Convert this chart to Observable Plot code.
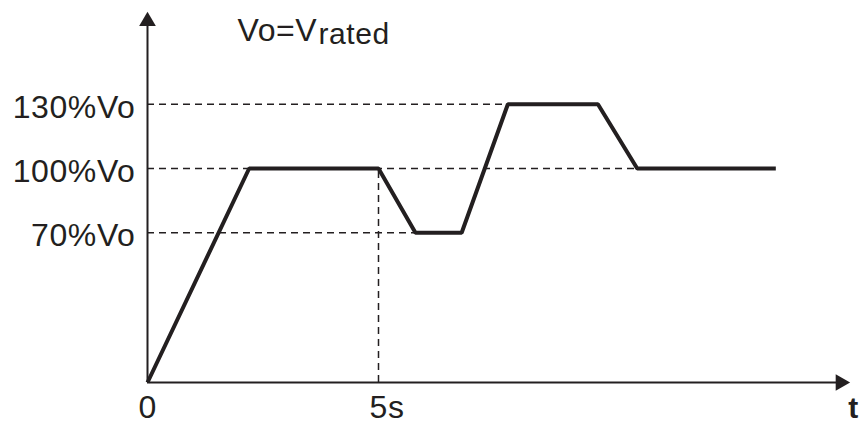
<!DOCTYPE html>
<html>
<head>
<meta charset="utf-8">
<script src="https://cdn.jsdelivr.net/npm/d3@7"></script>
<script src="https://cdn.jsdelivr.net/npm/@observablehq/plot@0.6"></script>
<style>
  html, body { margin: 0; padding: 0; background: #fff; }
  svg text { letter-spacing: 0.6px; }
</style>
</head>
<body>
<div id="chart"></div>
<script>
// Voltage profile (time in s, voltage in % of Vo)
const times    = [0, 2.2, 5, 5.8, 6.8, 7.8, 9.75, 10.6, 13.6];
const voltages = [0, 100, 100, 70, 70, 130, 130, 100, 100];

// Reference levels and where the dashed guide ends
const levels      = [130, 100, 70];
const levelLabels = ["130%Vo", "100%Vo", "70%Vo"];
const levelEnds   = [7.8, 10.6, 5.8];

// Time ticks
const xTicks      = [0, 5];
const xTickLabels = ["0", "5s"];

// Axis extents (arrow tips)
const xAxisEnd = 15;
const yAxisEnd = 168.8;

const ink = "#231f20";
const font = "'Liberation Sans', Arial, Helvetica, sans-serif";

const profile = times.map((t, i) => ({t, v: voltages[i]}));

const chart = Plot.plot({
  width: 860,
  height: 425,
  margin: 0,
  style: {fontFamily: font, background: "#fff", color: ink},
  x: {domain: [0, 5], range: [147, 378], axis: null},
  y: {domain: [0, 100], range: [382, 168], axis: null},
  marks: [
    // dashed guides
    Plot.ruleY(levels, {y: d => d, x1: 0, x2: (d, i) => levelEnds[i], stroke: ink, strokeWidth: 1.5, strokeDasharray: "7,5"}),
    Plot.ruleX([5], {x: d => d, y1: 0, y2: 100, stroke: ink, strokeWidth: 1.5, strokeDasharray: "7,5"}),
    // axes
    Plot.ruleY([0], {x1: 0, x2: xAxisEnd, stroke: ink, strokeWidth: 2}),
    Plot.ruleX([0], {y1: 0, y2: yAxisEnd, stroke: ink, strokeWidth: 2}),
    Plot.dot([{x: xAxisEnd, y: 0, rot: 90}, {x: 0, y: yAxisEnd, rot: 0}],
      {x: "x", y: "y", rotate: "rot", symbol: "triangle", r: 6.2, fill: ink, stroke: "none"}),
    // profile line
    Plot.line(profile, {x: "t", y: "v", stroke: ink, strokeWidth: 4, strokeLinejoin: "miter", strokeLinecap: "butt"}),
    // y level labels
    Plot.text(levels, {x: 0, y: d => d, text: (d, i) => levelLabels[i], textAnchor: "end", lineAnchor: "middle",
      dx: -12, dy: 3, fontSize: 32, fill: ink}),
    // x tick labels
    Plot.text(xTicks, {x: d => d, y: 0, text: (d, i) => xTickLabels[i], textAnchor: "start", lineAnchor: "bottom",
      dx: -9, dy: 35, fontSize: 32, fill: ink}),
    // axis name t
    Plot.text(["t"], {x: 15.28, y: 0, text: d => d, textAnchor: "middle", lineAnchor: "bottom",
      dy: 35, fontSize: 30, fontWeight: "bold", fill: ink}),
    // Vo = Vrated
    Plot.text(["Vo=V"], {x: 1.948, y: 159.8, text: d => d, textAnchor: "start", lineAnchor: "bottom", fontSize: 32, fill: ink}),
    Plot.text(["rated"], {x: 3.70, y: 158.3, text: d => d, textAnchor: "start", lineAnchor: "bottom", fontSize: 30, fill: ink})
  ]
});

document.getElementById("chart").appendChild(chart);
</script>
</body>
</html>
